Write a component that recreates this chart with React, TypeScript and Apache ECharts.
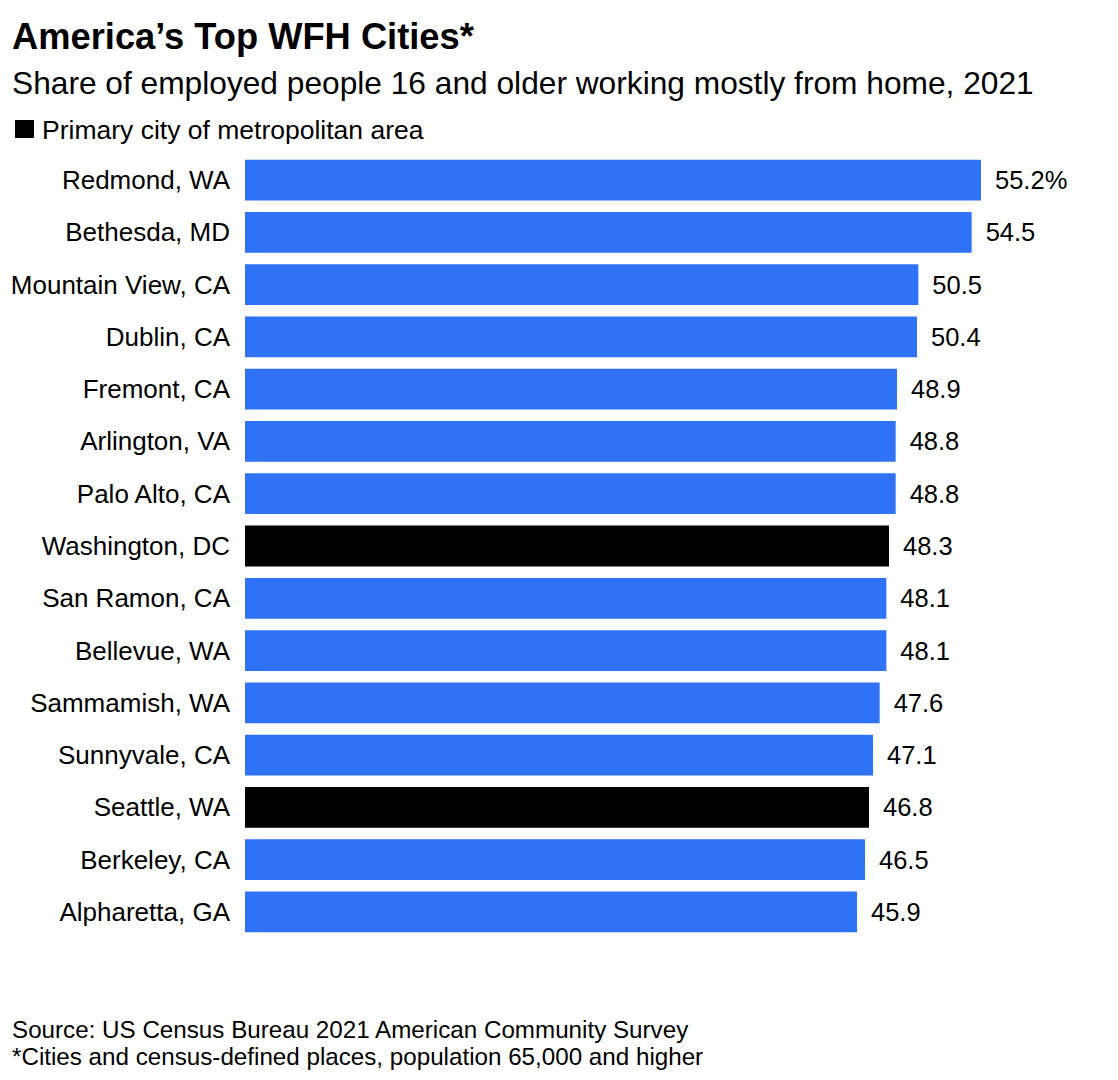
import React, { useEffect, useRef } from "react";
import * as echarts from "echarts";

const cities = [
  "Redmond, WA",
  "Bethesda, MD",
  "Mountain View, CA",
  "Dublin, CA",
  "Fremont, CA",
  "Arlington, VA",
  "Palo Alto, CA",
  "Washington, DC",
  "San Ramon, CA",
  "Bellevue, WA",
  "Sammamish, WA",
  "Sunnyvale, CA",
  "Seattle, WA",
  "Berkeley, CA",
  "Alpharetta, GA",
];
const shares = [55.2, 54.5, 50.5, 50.4, 48.9, 48.8, 48.8, 48.3, 48.1, 48.1, 47.6, 47.1, 46.8, 46.5, 45.9];
const primaryCities = ["Washington, DC", "Seattle, WA"];

const TITLE = "America\u2019s Top WFH Cities*";
const SUBTITLE = "Share of employed people 16 and older working mostly from home, 2021";
const LEGEND = "Primary city of metropolitan area";
const SOURCE = "Source: US Census Bureau 2021 American Community Survey";
const NOTE = "*Cities and census-defined places, population 65,000 and higher";

const BLUE = "#3072F6";
const FONT = "'Liberation Sans', Arial, Helvetica, sans-serif";

export default function App() {
  const ref = useRef<HTMLDivElement>(null);
  useEffect(() => {
    if (!ref.current) return;
    const chart = echarts.init(ref.current, undefined, { renderer: "svg" });
    chart.setOption({
      animation: false,
      backgroundColor: "#ffffff",
      textStyle: { fontFamily: FONT },
      grid: { left: 245, right: 73, top: 154, height: 784, containLabel: false },
      xAxis: {
        type: "value",
        min: 0,
        max: 60,
        show: false,
      },
      yAxis: {
        type: "category",
        data: cities,
        inverse: true,
        axisLine: { show: false },
        axisTick: { show: false },
        axisLabel: { fontSize: 26, color: "#000", margin: 15, fontFamily: FONT },
      },
      series: [
        {
          type: "bar",
          barCategoryGap: "22%",
          data: shares.map((v, i) => ({
            value: v,
            itemStyle: {
              color: primaryCities.includes(cities[i]) ? "#000000" : BLUE,
            },
          })),
          label: {
            show: true,
            position: "right",
            distance: 14,
            fontSize: 25.5,
            color: "#000",
            fontFamily: FONT,
            formatter: (p: any) => (p.dataIndex === 0 ? `${p.value}%` : `${p.value}`),
          },
        },
      ],
      graphic: [
        {
          type: "text",
          left: 12,
          top: 18,
          style: { text: TITLE, fontSize: 36.3, fontWeight: "bold", fill: "#000", fontFamily: FONT },
        },
        {
          type: "text",
          left: 12,
          top: 66.5,
          style: { text: SUBTITLE, fontSize: 31.7, fill: "#000", fontFamily: FONT },
        },
        {
          type: "rect",
          shape: { x: 15, y: 120, width: 19, height: 18 },
          style: { fill: "#000" },
        },
        {
          type: "text",
          left: 42,
          top: 116,
          style: { text: LEGEND, fontSize: 26.5, fill: "#000", fontFamily: FONT },
        },
        {
          type: "text",
          left: 12,
          top: 1017,
          style: { text: SOURCE, fontSize: 24.2, fill: "#000", fontFamily: FONT },
        },
        {
          type: "text",
          left: 12,
          top: 1044,
          style: { text: NOTE, fontSize: 24.2, fill: "#000", fontFamily: FONT },
        },
      ],
    });
    return () => chart.dispose();
  }, []);
  return (
    <div
      ref={ref}
      style={{ position: "fixed", left: 0, top: 0, width: 1118, height: 1080, background: "#fff" }}
    />
  );
}
